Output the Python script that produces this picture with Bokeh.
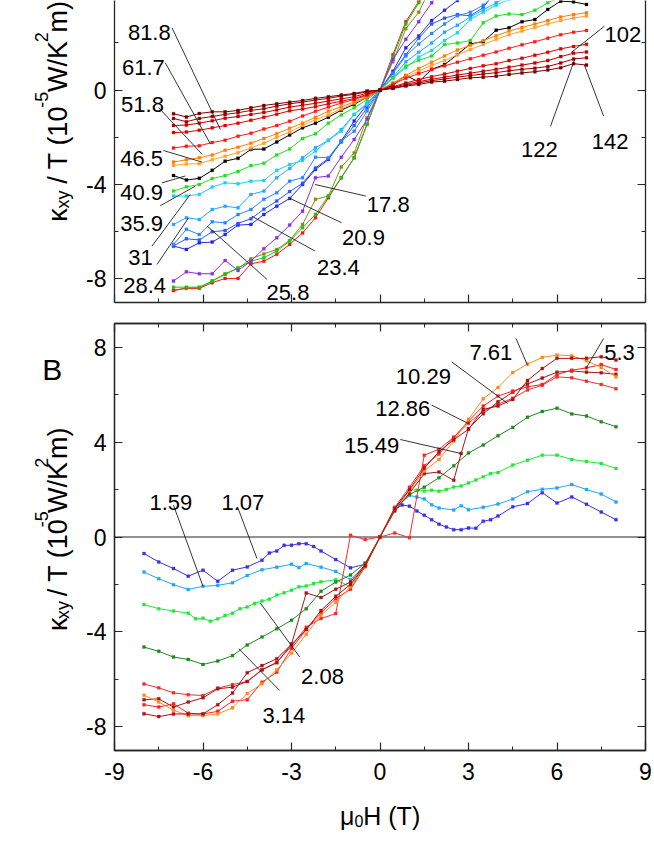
import math
from bokeh.plotting import figure
from bokeh.models import Range1d, LinearAxis, FixedTicker, Label, Span
from bokeh.layouts import column, row
from bokeh.embed import file_html
from bokeh.resources import INLINE

FONT = "Liberation Sans"

# ---------------- data: panel A (field grid and curves) ----------------
XA = [-7.0, -6.5625, -6.125, -5.6875, -5.25, -4.8125, -4.375, -3.9375, -3.5, -3.0625,
      -2.625, -2.1875, -1.75, -1.3125, -0.875, -0.4375, 0.0, 0.4375, 0.875, 1.3125,
      1.75, 2.1875, 2.625, 3.0625, 3.5, 3.9375, 4.375, 4.8125, 5.25, 5.6875, 6.125,
      6.5625, 7.0]

A_142 = [-1.00, -1.14, -0.99, -0.92, -0.92, -0.86, -0.75, -0.65, -0.58, -0.51, -0.44, -0.35, -0.28, -0.21, -0.14, -0.04, 0.0,
         0.07, 0.17, 0.24, 0.34, 0.38, 0.45, 0.52, 0.55, 0.59, 0.66, 0.73, 0.78, 0.85, 0.95, 1.12, 1.06]
A_122 = [-1.20, -1.34, -1.20, -1.12, -1.03, -0.96, -0.86, -0.79, -0.68, -0.58, -0.51, -0.42, -0.35, -0.25, -0.18, -0.07, 0.0,
         0.09, 0.20, 0.30, 0.40, 0.47, 0.55, 0.62, 0.68, 0.74, 0.82, 0.88, 0.93, 1.00, 1.15, 1.32, 1.37]
A_102 = [-1.50, -1.48, -1.40, -1.30, -1.19, -1.12, -1.03, -0.95, -0.84, -0.72, -0.64, -0.56, -0.46, -0.37, -0.28, -0.13, 0.0,
         0.12, 0.25, 0.36, 0.46, 0.55, 0.64, 0.72, 0.80, 0.88, 0.97, 1.06, 1.15, 1.25, 1.42, 1.56, 1.62]
A_818 = [-1.80, -1.78, -1.70, -1.60, -1.50, -1.40, -1.28, -1.15, -1.02, -0.88, -0.80, -0.70, -0.58, -0.47, -0.36, -0.18, 0.0,
         0.15, 0.30, 0.45, 0.57, 0.68, 0.80, 0.92, 1.03, 1.12, 1.25, 1.35, 1.48, 1.60, 1.75, 1.85, 1.94]
A_617 = [-2.45, -2.38, -2.36, -2.22, -2.12, -1.95, -1.83, -1.65, -1.50, -1.32, -1.10, -0.90, -0.72, -0.55, -0.40, -0.22, 0.0,
         0.25, 0.50, 0.70, 0.87, 1.03, 1.18, 1.33, 1.48, 1.62, 1.77, 1.92, 2.05, 2.20, 2.35, 2.45, 2.53]
A_518 = [-3.05, -2.95, -2.87, -2.75, -2.55, -2.42, -2.25, -2.05, -1.85, -1.62, -1.40, -1.15, -0.90, -0.70, -0.50, -0.27, 0.0,
         0.30, 0.62, 0.92, 1.18, 1.45, 1.70, 1.90, 2.10, 2.30, 2.50, 2.65, 2.80, 2.95, 3.10, 3.20, 3.28]
A_465 = [-3.19, -3.13, -3.12, -2.95, -2.80, -2.65, -2.45, -2.25, -2.00, -1.78, -1.50, -1.25, -1.05, -0.80, -0.55, -0.30, 0.0,
         0.30, 0.55, 0.80, 1.05, 1.25, 1.50, 1.72, 1.93, 2.15, 2.35, 2.50, 2.65, 2.80, 2.95, 3.05, 3.14]
A_409 = [-3.62, -3.81, -3.74, -3.40, -3.01, -2.89, -2.51, -2.50, -2.20, -1.90, -1.60, -1.40, -1.15, -0.85, -0.60, -0.30, 0.0,
         0.20, 0.62, 0.35, 0.88, 1.08, 1.51, 1.96, 2.05, 2.54, 2.64, 2.90, 2.99, 3.42, 3.77, 3.74, 3.63]
A_359 = [-4.28, -4.10, -4.00, -3.75, -3.62, -3.45, -3.20, -3.10, -2.75, -2.50, -2.05, -1.85, -1.40, -1.05, -0.75, -0.40, 0.0,
         0.52, 1.02, 1.26, 1.44, 1.93, 2.00, 2.10, 2.85, 3.14, 3.23, 3.20, 3.38, 3.70, 3.95, 4.05, 4.20]
A_31 = [-4.49, -4.49, -4.42, -4.11, -3.93, -3.97, -3.86, -3.83, -3.40, -3.15, -2.98, -2.58, -2.13, -1.74, -1.03, -0.61, 0.0,
        0.50, 0.95, 1.40, 1.68, 2.10, 2.43, 3.00, 3.30, 3.60, 3.85, 4.00, 4.20, 4.35, 4.45, 4.55, 4.60]
A_284 = [-5.69, -5.41, -5.48, -5.06, -4.92, -4.99, -4.42, -4.28, -3.71, -3.32, -2.87, -2.44, -2.13, -1.67, -1.03, -0.55, 0.0,
         0.55, 1.20, 1.60, 2.00, 2.45, 2.75, 3.10, 3.40, 3.70, 4.00, 4.30, 4.50, 4.70, 4.90, 5.00, 5.10]
A_258 = [-6.54, -5.90, -6.12, -5.58, -5.62, -5.27, -5.06, -4.63, -4.35, -3.86, -3.71, -2.84, -2.87, -2.16, -1.74, -0.89, 0.0,
         0.70, 1.45, 1.95, 2.40, 2.80, 3.15, 3.30, 3.60, 4.10, 4.40, 4.80, 5.00, 5.30, 5.50, 5.60, 5.80]
A_234 = [-6.60, -6.30, -6.35, -6.00, -5.95, -5.65, -5.45, -5.05, -4.70, -4.30, -3.95, -3.30, -2.90, -2.20, -1.50, -0.75, 0.0,
         0.75, 1.50, 2.20, 2.80, 3.05, 3.20, 3.15, 3.50, 4.20, 4.60, 5.00, 5.30, 5.60, 5.80, 6.00, 6.30]
A_209 = [-6.61, -6.75, -6.47, -6.44, -6.12, -5.72, -5.69, -5.27, -4.92, -4.59, -4.00, -3.36, -2.94, -2.16, -1.31, -0.61, 0.0,
         0.80, 1.79, 2.29, 2.95, 3.38, 3.80, 4.30, 4.70, 5.00, 5.40, 5.70, 6.00, 6.20, 6.40, 6.50, 6.60]
A_178 = [-8.09, -7.70, -7.78, -7.78, -7.22, -7.64, -7.25, -6.72, -6.26, -5.72, -5.13, -3.71, -3.64, -2.84, -2.09, -1.24, 0.0,
         1.30, 2.15, 2.90, 3.70, 4.50, 5.20, 5.80, 6.30, 6.60, 7.00, 7.30, 7.50, 7.70, 7.80, 7.80, 8.00]
A_LOW1 = [-8.35, -8.35, -8.35, -8.09, -7.81, -7.53, -7.25, -7.10, -6.82, -6.40, -5.83, -5.27, -4.49, -3.71, -2.87, -1.45, 0.0,
          1.40, 2.80, 3.70, 4.50, 5.30, 5.90, 6.40, 6.80, 7.10, 7.30, 7.50, 7.80, 8.10, 8.30, 8.30, 8.35]
A_LOW2 = [-8.49, -8.40, -8.40, -8.16, -7.98, -7.98, -7.36, -7.25, -6.96, -6.54, -6.05, -5.41, -4.56, -3.71, -2.87, -1.45, 0.0,
          1.50, 2.90, 3.75, 4.60, 5.40, 6.00, 6.50, 6.90, 7.20, 7.40, 7.90, 8.00, 8.15, 8.35, 8.40, 8.45]
A_LOW3 = [-8.49, -8.38, -8.38, -8.09, -7.78, -7.56, -7.15, -6.94, -6.75, -6.37, -5.69, -4.63, -4.49, -3.26, -2.66, -1.17, 0.0,
          1.20, 2.60, 3.30, 4.40, 4.70, 5.60, 6.30, 6.70, 6.90, 7.20, 7.50, 7.80, 8.10, 8.30, 8.40, 8.45]

A_SERIES = [
    (A_LOW3, "#8c8c14"), (A_LOW2, "#ff1414"), (A_LOW1, "#14c814"), (A_178, "#8a2cf0"),
    (A_209, "#2424ea"), (A_234, "#2a58f5"), (A_258, "#2c84ff"), (A_284, "#20aaff"),
    (A_31, "#14d6f0"), (A_359, "#22e022"), (A_409, "#000000"), (A_465, "#ffa030"),
    (A_518, "#ff8000"), (A_617, "#ff1a1a"), (A_818, "#e00000"), (A_102, "#c40000"),
    (A_122, "#a00000"), (A_142, "#780000"),
]

# ---------------- data: panel B ----------------
XB = [-8, -7.5, -7, -6.5, -6, -5.5, -5, -4.5, -4, -3.5, -3, -2.5, -2, -1.5, -1, -0.5, 0,
      0.5, 1, 1.5, 2, 2.5, 3, 3.5, 4, 4.5, 5, 5.5, 6, 6.5, 7, 7.5, 8]

X_107 = [-8, -7.5, -7, -6.5, -6, -5.5, -5, -4.5, -4, -3.75, -3.5, -3.25, -3, -2.75, -2.5, -2.25, -2,
         -1.5, -1, -0.5, 0, 0.5, 0.75, 1, 1.25, 1.5, 1.75, 2, 2.25, 2.5, 2.75, 3, 3.25, 3.5, 3.75, 4,
         4.5, 5, 5.5, 6, 6.5, 7, 7.5, 8]
B_107 = [-0.70, -1.05, -1.33, -1.65, -1.40, -1.87, -1.40, -1.26, -0.98, -0.67, -0.59, -0.35, -0.35, -0.28, -0.28, -0.40, -0.59,
         -0.95, -1.30, -1.15, 0.0, 1.15, 1.35, 1.30, 1.10, 0.92, 0.73, 0.54, 0.42, 0.31, 0.31, 0.38, 0.37, 0.66, 0.73, 0.88,
         1.27, 1.41, 1.87, 1.43, 1.69, 1.38, 1.05, 0.73]

X_159 = [-8, -7.5, -7, -6.5, -6, -5.5, -5, -4.5, -4, -3.5, -3, -2.75, -2.5, -2, -1.5, -1, -0.5, 0,
         0.5, 1, 1.25, 1.5, 1.75, 2, 2.5, 2.75, 3, 3.5, 4, 4.5, 5, 5.5, 6, 6.5, 7, 7.5, 8]
B_159 = [-1.48, -1.76, -2.01, -2.21, -2.08, -2.04, -1.93, -1.62, -1.38, -1.27, -1.15, -1.29, -1.12, -1.27, -1.45, -1.80, -1.20, 0.0,
         1.20, 1.75, 1.69, 1.60, 1.36, 1.22, 1.14, 1.32, 1.15, 1.25, 1.39, 1.60, 1.91, 2.01, 2.07, 2.21, 2.00, 1.81, 1.48]

X_208 = [-8, -7.5, -7, -6.5, -6.25, -6, -5.75, -5.5, -5.25, -5, -4.75, -4.5, -4.25, -4, -3.75, -3.5, -3.25, -3,
         -2.75, -2.5, -2.25, -2, -1.5, -1, -0.5, 0, 0.5, 1, 1.25, 1.5, 1.75, 2, 2.25, 2.5, 2.75, 3, 3.25, 3.5,
         3.75, 4, 4.5, 5, 5.5, 6, 6.5, 7, 7.5, 8]
B_208 = [-2.85, -3.02, -3.12, -3.21, -3.45, -3.42, -3.55, -3.45, -3.31, -3.21, -3.02, -2.95, -2.80, -2.70, -2.62, -2.45, -2.35, -2.24,
         -2.10, -2.07, -1.96, -1.89, -1.80, -2.10, -1.20, 0.0, 1.20, 2.00, 1.97, 1.94, 1.97, 1.93, 2.00, 2.11, 2.15, 2.28, 2.40, 2.54,
         2.68, 2.72, 3.03, 3.24, 3.45, 3.45, 3.27, 3.18, 3.10, 2.89]

B_314 = [-4.64, -4.82, -5.06, -5.16, -5.37, -5.23, -5.00, -4.55, -4.22, -3.87, -3.51, -3.02, -2.29, -1.90, -1.60, -1.10, 0.0,
         1.20, 1.80, 2.10, 2.50, 3.00, 3.54, 3.88, 4.27, 4.62, 5.05, 5.29, 5.43, 5.19, 5.10, 4.86, 4.65]
B_53 = [-7.07, -7.17, -7.03, -7.43, -7.46, -7.35, -6.92, -6.86, -6.12, -5.70, -4.70, -3.90, -3.20, -2.60, -2.20, -1.25, 0.0,
        1.25, 2.10, 3.00, 3.50, 4.20, 4.89, 5.52, 5.94, 6.15, 6.33, 6.43, 6.85, 7.03, 7.13, 7.27, 7.06]
B_761 = [-6.67, -6.96, -7.30, -7.53, -7.53, -7.46, -7.20, -6.60, -6.19, -5.60, -4.90, -4.10, -3.30, -2.75, -2.10, -1.20, 0.0,
         1.20, 1.95, 2.78, 3.27, 4.05, 4.96, 5.83, 6.30, 6.93, 7.29, 7.57, 7.67, 7.64, 7.43, 7.15, 6.75]
B_1029 = [-7.45, -7.57, -7.46, -7.46, -7.46, -7.07, -6.58, -5.72, -5.42, -5.13, -4.52, -3.90, -3.10, -2.50, -2.00, -1.20, 0.0,
          1.20, 2.00, 2.90, 3.60, 4.10, 4.54, 5.38, 5.52, 5.80, 6.60, 7.10, 7.53, 7.53, 7.53, 7.60, 7.46]
B_1286 = [-6.20, -6.36, -6.57, -6.65, -6.68, -6.37, -6.22, -6.09, -5.60, -5.28, -4.60, -3.80, -3.44, -3.23, 0.07, -0.11, 0.0,
          0.17, -0.03, 3.45, 3.70, 4.20, 4.80, 5.30, 5.60, 5.85, 6.20, 6.40, 6.75, 6.71, 6.57, 6.43, 6.25]
X_1549 = [-8, -7.5, -7, -6.5, -6, -5.5, -5, -4.5, -4, -3.5, -3, -2.5, -2, -1.5, -1, -0.5, 0,
          0.5, 1, 1.5, 2, 2.5, 2.75, 3, 3.5, 4, 4.5, 5, 5.5, 6, 6.5, 7, 7.5, 8]
B_1549 = [-6.86, -6.82, -7.17, -6.96, -6.78, -6.40, -6.33, -6.09, -5.60, -5.30, -4.52, -2.36, -2.55, -2.20, -1.90, -1.15, 0.0,
          1.10, 1.85, 2.67, 2.74, 2.39, 3.52, 4.57, 5.20, 5.70, 6.10, 6.45, 6.70, 6.95, 7.00, 6.95, 6.92, 6.86]

B_SERIES = [
    (X_107, B_107, "#3a2ef0"), (X_159, B_159, "#22a6f2"), (X_208, B_208, "#22e63c"),
    (XB, B_314, "#1f8a1f"), (XB, B_1286, "#f03030"), (X_1549, B_1549, "#a01818"),
    (XB, B_53, "#ff2020"), (XB, B_761, "#ff8a1a"), (XB, B_1029, "#b01010"),
]

X_TICKS = [-9, -6, -3, 0, 3, 6, 9]
X_TICK_LABELS = ["-9", "-6", "-3", "0", "3", "6", "9"]
X_MINOR = [-7.5, -4.5, -1.5, 1.5, 4.5, 7.5]
Y_TICKS = [-8, -4, 0, 4, 8]
Y_TICK_LABELS = ["-8", "-4", "0", "4", "8"]
Y_MINOR = [-6, -2, 2, 6]

# annotation labels: text, (text centre x, baseline y), leader from, leader to  [data units]
A_LABELS = [
    ("81.8", (-7.82, 2.44), (-7.05, 2.64), (-5.41, -1.67)),
    ("61.7", (-8.02, 0.96), (-7.28, 1.16), (-5.75, -2.28)),
    ("51.8", (-8.05, -0.63), (-7.50, -0.75), (-6.03, -2.72)),
    ("46.5", (-8.08, -2.91), (-7.34, -2.56), (-6.03, -3.05)),
    ("40.9", (-8.08, -4.34), (-7.39, -3.93), (-6.60, -3.64)),
    ("35.9", (-8.08, -5.67), (-7.45, -4.90), (-6.26, -4.07)),
    ("31", (-8.12, -7.08), (-7.73, -6.61), (-6.43, -4.42)),
    ("28.4", (-7.98, -8.30), (-7.56, -7.39), (-6.49, -5.41)),
    ("25.8", (-3.12, -8.59), (-3.83, -8.02), (-5.86, -5.76)),
    ("23.4", (-1.41, -7.53), (-2.20, -6.82), (-4.35, -5.34)),
    ("20.9", (-0.56, -6.26), (-1.30, -5.62), (-3.05, -4.59)),
    ("17.8", (0.28, -4.84), (-0.48, -4.49), (-2.20, -4.00)),
    ("102", (8.23, 2.36), (7.61, 2.71), (6.47, 1.58)),
    ("122", (5.40, -2.51), (5.78, -1.53), (6.61, 1.34)),
    ("142", (7.80, -2.16), (7.58, -1.10), (6.93, 1.06)),
]
B_LABELS = [
    ("1.59", (-7.09, 1.47), (-7.00, 1.34), (-6.00, -2.08)),
    ("1.07", (-4.65, 1.47), (-4.83, 1.27), (-4.17, -0.91)),
    ("2.08", (-1.95, -5.86), (-2.72, -5.06), (-4.06, -2.78)),
    ("3.14", (-3.26, -7.52), (-3.40, -6.47), (-4.79, -4.71)),
    ("15.49", (-0.28, 3.86), (0.69, 4.11), (2.74, 3.52)),
    ("12.86", (0.77, 5.40), (1.75, 5.56), (3.03, 4.76)),
    ("10.29", (1.47, 6.76), (2.43, 7.38), (4.33, 5.63)),
    ("7.61", (3.76, 7.76), (4.61, 8.37), (5.00, 7.24)),
    ("5.3", (8.12, 7.76), (7.58, 8.37), (6.98, 7.10)),
]

# ---------------- helpers ----------------
FW = {' ': .278, '/': .278, '(': .333, ')': .333, '-': .333, '.': .278, 'T': .611, 'W': .944,
      'K': .667, 'm': .833, 'H': .722, 'x': .5, 'y': .5, 'κ': .5, 'μ': .576}
LINE = "#262626"


def tw(s, size):
    return sum(FW.get(c, .556) for c in s) * size


def make_fig(width, height, xr, yr, bl=0, br=0, bt=0, bb=0):
    p = figure(width=width, height=height, x_range=xr, y_range=yr,
               output_backend="svg", toolbar_location=None,
               x_axis_location=None, y_axis_location=None,
               min_border_left=bl, min_border_right=br, min_border_top=bt, min_border_bottom=bb)
    p.grid.visible = False
    p.outline_line_color = None
    p.background_fill_color = "white"
    p.border_fill_color = "white"
    return p


def add_axis(p, place, ticks, minor, labels=None, standoff=8):
    ax = LinearAxis(ticker=FixedTicker(ticks=ticks, minor_ticks=minor))
    ax.axis_line_color = LINE
    ax.axis_line_width = 1.3
    ax.major_tick_line_color = LINE
    ax.major_tick_line_width = 1.2
    ax.minor_tick_line_color = LINE
    ax.minor_tick_line_width = 1
    ax.major_tick_in = 8
    ax.major_tick_out = 0
    ax.minor_tick_in = 4
    ax.minor_tick_out = 0
    if labels is not None:
        ax.major_label_overrides = {float(t): l for t, l in zip(ticks, labels)}
        ax.major_label_text_font = FONT
        ax.major_label_text_font_size = "23px"
        ax.major_label_text_color = "black"
        ax.major_label_standoff = standoff
    else:
        ax.major_label_text_font_size = "1px"
        ax.major_label_text_color = None
        ax.major_label_standoff = 0
    p.add_layout(ax, place)


def put(p, text, x, y, size, align="center", angle=0.0):
    p.add_layout(Label(x=x, y=y, text=text, text_font=FONT, text_font_size=size,
                       text_align=align, text_baseline="alphabetic", angle=angle,
                       text_color="black"))


def draw_labels(p, labels):
    for txt, (tx, ty), (x0, y0), (x1, y1) in labels:
        p.segment(x0=[x0], y0=[y0], x1=[x1], y1=[y1], line_color="#1e1e1e", line_width=0.9)
        put(p, txt, tx, ty, "22px")


def ylabel(p, xb, ystart, f=27):
    # strip figures use page-pixel coordinates directly
    s = round(f * 0.65)
    pieces = [("κ", f, 0, 0), ("xy", s, 5, 0), ("/ T (10", f, 0, .278 * f),
              ("-5", s, -16, 0), ("W/K", f, 0, 0), ("2", s, -16, 0), ("m)", f, 0, 0)]
    Y = ystart
    for txt, size, dx, gap in pieces:
        Y -= gap
        put(p, txt, xb + dx, Y, f"{size}px", align="left", angle=math.pi / 2)
        Y -= tw(txt, size)


def draw_series(p, xs, ys, c):
    p.line(xs, ys, line_color=c, line_width=1)
    p.scatter(xs, ys, marker="square", size=3.0, fill_color=c, line_color=c, line_width=0.3)


# ---------------- panel A ----------------
stripA = make_fig(80, 310, Range1d(0, 80), Range1d(310, 0))
pA = make_fig(574, 310, Range1d(-9, 9), Range1d(-9, 3.797), bl=34, br=9, bt=0, bb=8)
add_axis(pA, "left", Y_TICKS, Y_MINOR, Y_TICK_LABELS)
add_axis(pA, "right", Y_TICKS, Y_MINOR)
add_axis(pA, "below", X_TICKS, X_MINOR)
for ys, c in A_SERIES:
    draw_series(pA, XA, ys, c)
draw_labels(pA, A_LABELS)
ylabel(stripA, 57, 227)

# ---------------- panel B ----------------
stripB = make_fig(80, 482, Range1d(0, 80), Range1d(792, 310))
pB = make_fig(574, 482, Range1d(-9, 9), Range1d(-9, 9), bl=34, br=9, bt=13, bb=42)
pB.outline_line_color = LINE
pB.outline_line_width = 1.3
add_axis(pB, "left", Y_TICKS, Y_MINOR, Y_TICK_LABELS)
add_axis(pB, "right", Y_TICKS, Y_MINOR)
add_axis(pB, "below", X_TICKS, X_MINOR, X_TICK_LABELS, standoff=12)
add_axis(pB, "above", X_TICKS, X_MINOR)
pB.add_layout(Span(location=0, dimension="width", line_color=LINE, line_width=1, level="underlay"))
for xs, ys, c in B_SERIES:
    draw_series(pB, xs, ys, c)
draw_labels(pB, B_LABELS)
ylabel(stripB, 57, 657)
put(stripB, "B", 51.7, 361.7, "30px")

# ---------------- x-axis title (mu_0 H (T)) ----------------
bottom = make_fig(654, 54, Range1d(0, 654), Range1d(846, 792))
f = 25
X0, Yb = 339.5, 815
put(bottom, "μ", X0, Yb, f"{f}px", align="left")
put(bottom, "0", X0 + tw("μ", f), Yb + 5, "16px", align="left")
put(bottom, "H (T)", X0 + tw("μ", f) + tw("0", 16), Yb, f"{f}px", align="left")

layout = column(row(stripA, pA, spacing=0), row(stripB, pB, spacing=0), bottom, spacing=0)
open("out.html", "w").write(file_html(layout, INLINE))
